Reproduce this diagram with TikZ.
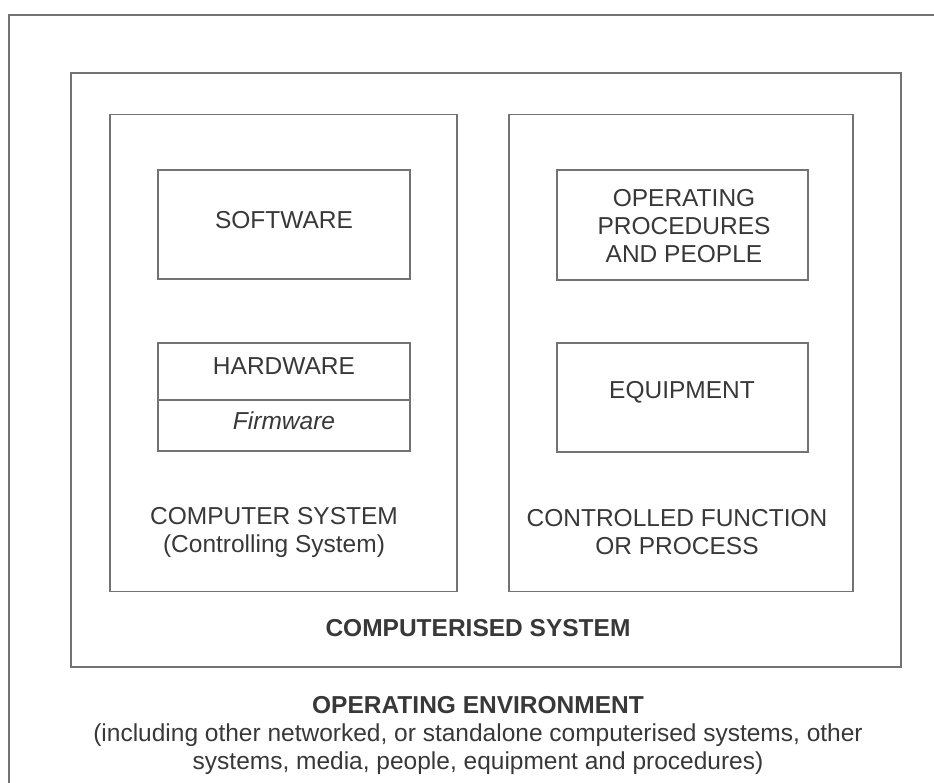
\documentclass[tikz,border=0pt]{standalone}
\usepackage{fontspec}
\setmainfont{Liberation Sans}
\begin{document}
\begin{tikzpicture}[x=1pt,y=-1pt,
  frame/.style={draw=black!55,line width=1.9pt,inner sep=0pt,outer sep=0pt},
  lbl/.style={font=\fontsize{24.5}{28}\selectfont,text=black!78,align=center,inner sep=0pt},
  blbl/.style={lbl,font=\fontsize{24.5}{28}\selectfont\bfseries}]
\useasboundingbox (0,0) rectangle (934,783);
\begin{scope}
\clip (0,0) rectangle (934,783);
\node[frame,minimum width=952pt,minimum height=785pt] (env) at (485,407.5) {};
\end{scope}
\node[frame,minimum width=830pt,minimum height=594pt] (csys) at (486,370) {};
\node[frame,minimum width=347pt,minimum height=477pt] (comp) at (283.5,353) {};
\node[frame,minimum width=344pt,minimum height=477pt] (ctrl) at (681,353) {};
\node[frame,minimum width=252pt,minimum height=109pt] (swbox) at (284,224.5) {};
\node[frame,minimum width=252pt,minimum height=108pt] (hwbox) at (284,397) {};
\draw[frame] (hwbox.west |- 0,400) -- (hwbox.east |- 0,400);
\node[frame,minimum width=251pt,minimum height=110pt] (oppbox) at (682.5,225) {};
\node[frame,minimum width=251pt,minimum height=109pt] (eqbox) at (682.5,397.5) {};
\node[lbl] (sw) at (284,220) {SOFTWARE};
\node[lbl] (hw) at (284,366) {HARDWARE};
\node[lbl,font=\fontsize{24.5}{28}\selectfont\itshape] (fw) at (284,421) {Firmware};
\node[lbl] (complbl) at (274,532) {COMPUTER SYSTEM\\(Controlling System)};
\node[lbl] (opp) at (684,226) {OPERATING\\PROCEDURES\\AND PEOPLE};
\node[lbl] (eq) at (682,392) {EQUIPMENT};
\node[lbl] (cf) at (677,532) {CONTROLLED FUNCTION\\OR PROCESS};
\node[blbl] (csyslbl) at (478,628) {COMPUTERISED SYSTEM};
\node[blbl] (oe) at (478,705) {OPERATING ENVIRONMENT};
\node[lbl] (inc) at (478,749) {(including other networked, or standalone computerised systems, other\\systems, media, people, equipment and procedures)};
\end{tikzpicture}
\end{document}
